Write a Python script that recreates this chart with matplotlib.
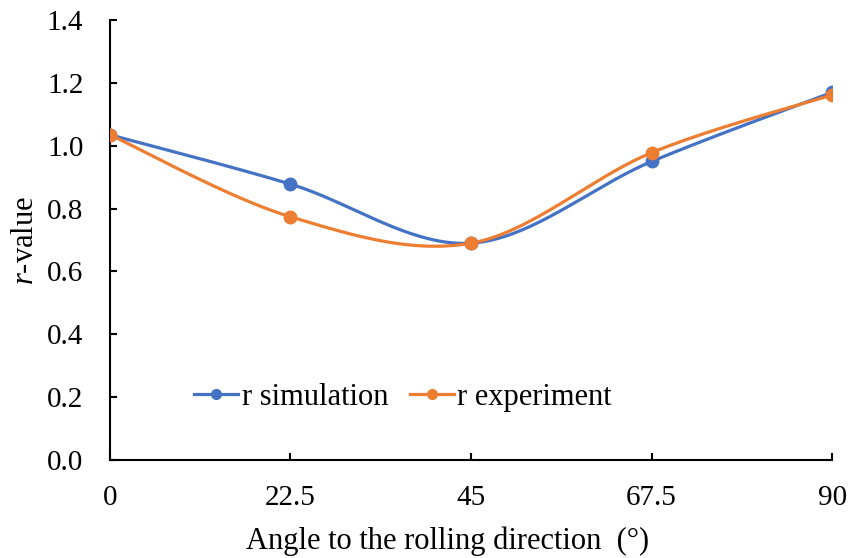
import numpy as np
import matplotlib
matplotlib.use("Agg")
import matplotlib.pyplot as plt

angles = ["0", "22.5", "45", "67.5", "90"]
r_simulation = [1.035, 0.878, 0.690, 0.950, 1.170]
r_experiment = [1.035, 0.774, 0.690, 0.978, 1.162]
y_ticks = [0.0, 0.2, 0.4, 0.6, 0.8, 1.0, 1.2, 1.4]

plt.rcParams["font.family"] = ["Liberation Serif", "DejaVu Serif"]
plt.rcParams["mathtext.fontset"] = "custom"
plt.rcParams["mathtext.it"] = "Liberation Serif:italic"
plt.rcParams["mathtext.rm"] = "Liberation Serif"


def excel_smooth(x, y, n=40):
    # Bezier segments with Catmull-Rom style control points, like Excel's smoothed lines
    x = np.asarray(x, float)
    y = np.asarray(y, float)
    pts = np.column_stack([x, y])
    out = []
    for i in range(len(pts) - 1):
        p0 = pts[i - 1] if i > 0 else pts[i]
        p1 = pts[i]
        p2 = pts[i + 1]
        p3 = pts[i + 2] if i + 2 < len(pts) else pts[i + 1]
        c1 = p1 + (p2 - p0) / 6.0
        c2 = p2 - (p3 - p1) / 6.0
        t = np.linspace(0, 1, n)[:, None]
        seg = ((1 - t) ** 3) * p1 + 3 * ((1 - t) ** 2) * t * c1 + 3 * (1 - t) * t ** 2 * c2 + t ** 3 * p2
        out.append(seg if i == 0 else seg[1:])
    out = np.vstack(out)
    return out[:, 0], out[:, 1]


def main():
    fig = plt.figure(figsize=(8.51, 5.58), dpi=100)
    ax = fig.add_axes([0.129, 0.1756, 0.849, 0.7885])

    xs = np.arange(len(angles))
    series = [("r simulation", r_simulation, "#4472C4"),
              ("r experiment", r_experiment, "#ED7D31")]
    for name, vals, col in series:
        sx, sy = excel_smooth(xs, vals)
        ax.plot(sx, sy, color=col, lw=2.3, solid_capstyle="round", zorder=2)
        ax.plot(xs, vals, "o", color=col, ms=9, zorder=3)
        ax.plot([], [], "-o", color=col, lw=2.3, ms=7, label=name)

    ax.set_xlim(0, len(angles) - 1)
    ax.set_ylim(0, 1.4)
    ax.set_xticks(xs)
    ax.set_xticklabels(angles)
    ax.set_yticks(y_ticks)
    ax.set_yticklabels([f"{v:.1f}" for v in y_ticks])

    for s in ["top", "right"]:
        ax.spines[s].set_visible(False)
    for s in ["left", "bottom"]:
        ax.spines[s].set_linewidth(1.5)
    ax.tick_params(direction="in", length=5, width=1.5, labelsize=21)
    ax.tick_params(axis="x", pad=18)
    ax.tick_params(axis="y", pad=19)

    ax.set_xlabel("Angle to the rolling direction  (°)", fontsize=22, va="center")
    ax.xaxis.set_label_coords(0.467, -0.184)
    ax.set_ylabel("$r$-value", fontsize=22, va="center")
    ax.yaxis.set_label_coords(-0.117, 0.498)

    ax.legend(loc="center", bbox_to_anchor=(0.406, 0.143), ncol=2, frameon=False,
              fontsize=22, handlelength=1.44, handletextpad=0.12, columnspacing=0.7)

    fig.savefig("out.png", dpi=100)


if __name__ == "__main__":
    main()
